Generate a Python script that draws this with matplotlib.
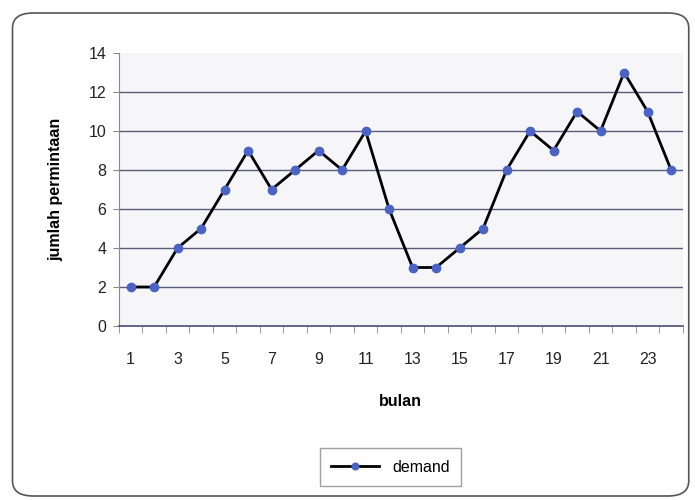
import matplotlib
matplotlib.use("Agg")
import matplotlib.pyplot as plt
from matplotlib.patches import FancyBboxPatch
import numpy as np

plt.rcParams["font.family"] = ["Liberation Sans", "DejaVu Sans"]

bulan = list(range(1, 25))
demand = [2, 2, 4, 5, 7, 9, 7, 8, 9, 8, 10, 6, 3, 3, 4, 5, 8, 10, 9, 11, 10, 13, 11, 8]
yticks = [0, 2, 4, 6, 8, 10, 12, 14]
xticklabels = [1, 3, 5, 7, 9, 11, 13, 15, 17, 19, 21, 23]

fig = plt.figure(figsize=(6.95, 5.0), dpi=100)
fig.patch.set_facecolor("white")

# rounded chart border
border = FancyBboxPatch((0.018, 0.008), 0.973, 0.966,
                        boxstyle="round,pad=0,rounding_size=0.03",
                        transform=fig.transFigure, fill=False,
                        edgecolor="#555555", linewidth=1.2)
fig.patches.append(border)

ax = fig.add_axes([0.171, 0.348, 0.8115, 0.546])
ax.set_facecolor("#f6f6f9")

ax.plot(bulan, demand, color="black", linewidth=2.0, marker="o",
        markersize=6, markerfacecolor="#4a63c4", markeredgecolor="#4a63c4",
        label="demand", zorder=3)

ax.set_xlim(0.5, 24.5)
ax.set_ylim(0, 14)
ax.set_yticks(yticks)
ax.set_xticks(xticklabels)
ax.set_xticklabels([str(v) for v in xticklabels])
ax.set_xticks(np.arange(0.5, 25, 1), minor=True)
ax.tick_params(axis="x", which="major", length=0, pad=19, labelsize=11.5, colors="#222222")
ax.tick_params(axis="x", which="minor", length=5, direction="out", color="#888888")
ax.tick_params(axis="y", length=4, direction="out", color="#888888", labelsize=11.5,
               colors="#222222", pad=5)

for y in yticks[1:-1]:
    ax.axhline(y, color="#5a5a7a", linewidth=1.0, zorder=1)

for s in ["top", "right"]:
    ax.spines[s].set_visible(False)
ax.spines["left"].set_color("#888888")
ax.spines["bottom"].set_color("#4a4a7a")
ax.spines["bottom"].set_linewidth(1.2)

ax.set_xlabel("bulan", fontsize=11.5, fontweight="bold", labelpad=19)
ax.set_ylabel("jumlah permintaan", fontsize=11.5, fontweight="bold", labelpad=18)

leg = fig.legend(loc="center", bbox_to_anchor=(0.562, 0.066), fontsize=11.5,
                 frameon=True, fancybox=False, edgecolor="#888888",
                 handlelength=3.0, borderpad=0.7, markerscale=0.8)

fig.savefig("out.png", dpi=100)
